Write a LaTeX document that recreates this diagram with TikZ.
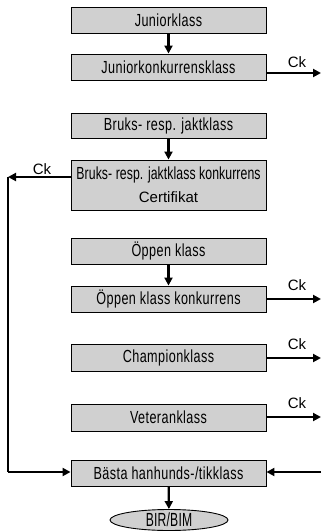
\documentclass[tikz,border=0pt]{standalone}
\usepackage{fontspec}
\setmainfont{Liberation Sans}
\newfontfamily\condfont[FakeStretch=0.72,LetterSpace=2.5]{Liberation Sans}
\newfontfamily\condtight[FakeStretch=0.7,LetterSpace=0.5]{Liberation Sans}
\newfontfamily\condnarrow[FakeStretch=0.64,LetterSpace=1]{Liberation Sans}
\usetikzlibrary{arrows.meta,shapes.geometric}
\definecolor{boxgray}{RGB}{208,208,208}
\begin{document}
\begin{tikzpicture}[x=1pt,y=-1pt,
  box/.style={draw, fill=boxgray, line width=0.9pt, minimum width=195pt, minimum height=26pt,
    inner sep=0pt, font=\condfont\fontsize{17.5}{19}\selectfont},
  conn/.style={line width=2.2pt, -{Triangle[length=8pt,width=8pt]}},
  plain/.style={line width=2.2pt},
  cklabel/.style={font=\rmfamily\fontsize{15}{16}\selectfont, inner sep=0pt}]
\useasboundingbox (0,0) rectangle (321,532);
\node[box] (j1) at (168.5,20) {Juniorklass};
\node[box] (j2) at (168.5,67) {Juniorkonkurrensklass};
\node[box, minimum height=25pt] (b1) at (168.5,125.5) {Bruks- resp. jaktklass};
\node[box, minimum height=50pt, align=center] (b2) at (168.5,185)
  {{\condtight\fontsize{17.5}{19}\selectfont Bruks- resp. jaktklass konkurrens}\\[4pt]
   {\rmfamily\fontsize{15}{16}\selectfont Certifikat}};
\node[box] (o1) at (168.5,251) {Öppen klass};
\node[box] (o2) at (168.5,299) {Öppen klass konkurrens};
\node[box, minimum height=27pt] (ch) at (168.5,358) {Championklass};
\node[box, minimum height=27pt] (ve) at (168.5,417.5) {Veteranklass};
\node[box] (be) at (168.5,473) {Bästa hanhunds-/tikklass};
\node[ellipse, draw, fill=boxgray, line width=0.9pt, minimum width=118pt, minimum height=21pt,
  inner sep=0pt, font=\condnarrow\fontsize{19}{20}\selectfont] (bir) at (169,520) {BIR/BIM};

\coordinate (r1) at (321,73);
\coordinate (r2) at (321,299);
\coordinate (r3) at (321,358);
\coordinate (r4) at (321,417);
\coordinate (r5) at (321,472);
\coordinate (l1) at (8,177);

\draw[conn] (j1) -- (j2);
\draw[conn] (b1) -- (b2);
\draw[conn] (o1) -- (o2);
\draw[conn] (be) -- (bir);

\draw[conn] (r1 -| j2.east) -- (r1);
\draw[conn] (r2 -| o2.east) -- (r2);
\draw[conn] (r3 -| ch.east) -- (r3);
\draw[conn] (r4 -| ve.east) -- (r4);
\draw[conn] (r5) -- (r5 -| be.east);
\draw[conn] (l1 -| b2.west) -- (l1);
\draw[plain, line join=miter] (l1) -- (l1 |- r5);
\draw[conn] (l1 |- r5) -- (r5 -| be.west);

\node[cklabel] (ck1) at (297,62) {Ck};
\node[cklabel] (ck2) at (297,285) {Ck};
\node[cklabel] (ck3) at (297,344) {Ck};
\node[cklabel] (ck4) at (297,403) {Ck};
\node[cklabel] (ck5) at (42,169) {Ck};
\end{tikzpicture}
\end{document}
